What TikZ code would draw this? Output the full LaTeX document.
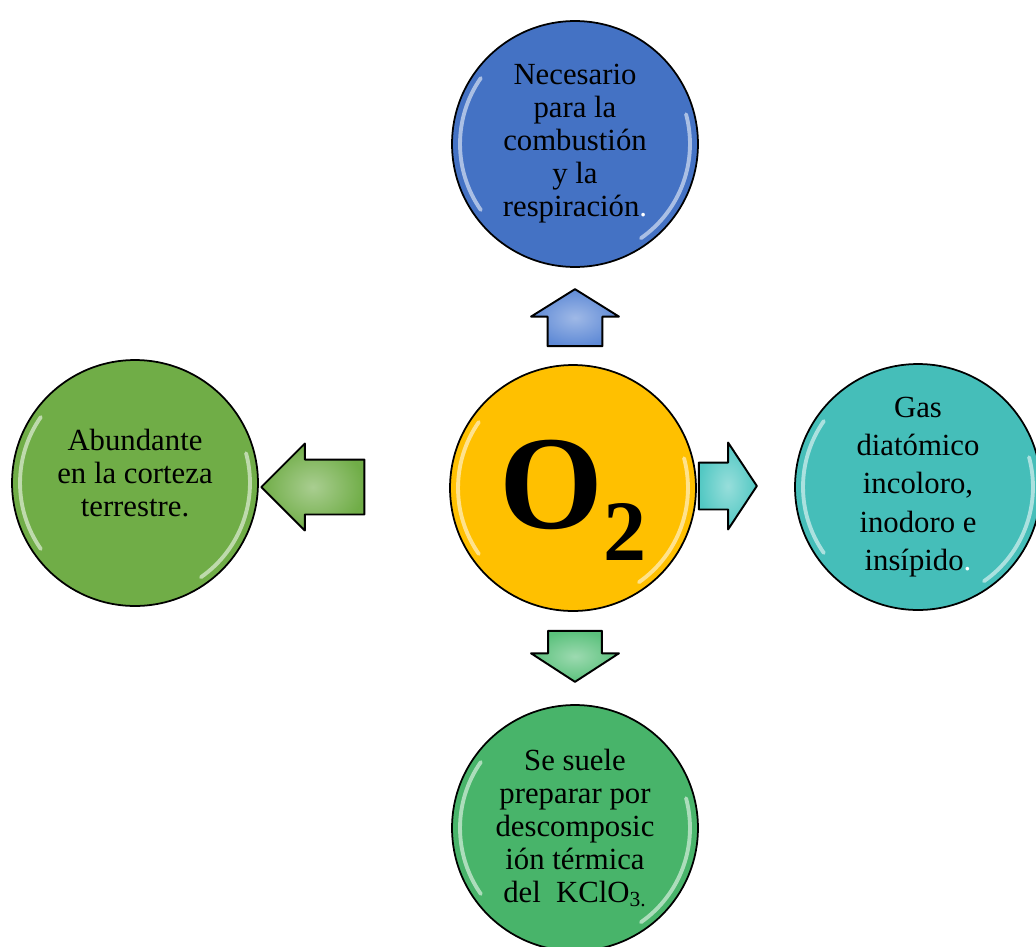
\documentclass[tikz,border=0pt]{standalone}
\usepackage{fontspec}
\setmainfont{Liberation Serif}
\usepackage{xcolor}
\usepackage{tikz}
\usetikzlibrary{
    shapes.arrows,
    positioning
}
\definecolor{azulcirc}{HTML}{4472C4}
\definecolor{amarcirc}{HTML}{FFC000}
\definecolor{verdecirc}{HTML}{70AD47}
\definecolor{turqcirc}{HTML}{45BEB9}
\definecolor{verdeosc}{HTML}{48B46A}
\definecolor{azulflecha}{HTML}{5F8AD6}
\definecolor{turqflecha}{HTML}{52C8C3}
\definecolor{verdeflecha}{HTML}{70AD47}
\definecolor{menta}{HTML}{5BC17C}
\tikzset{
    bola/.style={
        draw,
        circle,
        minimum size=4.92cm,
        inner sep=0pt,
        line width=1pt,
        align=center,
        font=\fontsize{17.5}{18.8}\selectfont
    },
    flecha/.style={
        draw,
        single arrow,
        anchor=tip,
        inner xsep=0pt,
        line width=1.1pt,
        line join=round
    },
    brillo/.style={
        white,
        opacity=0.55,
        line width=2.2pt,
        line cap=round
    }
}

\begin{document}
\begin{tikzpicture}[x=0.02cm,y=-0.02cm]
\useasboundingbox (0,0) rectangle (1036,947);
\node[bola, fill=azulcirc] (necesario) at (575,144) {Necesario\\para la\\combustión\\y la\\respiración{\color{white}.}};
\node[bola, fill=amarcirc] (oxig) at (573,488) {};
\node[bola, fill=verdecirc, text depth=0.4cm] (abundante) at (135,483) {Abundante\\en la corteza\\terrestre.};
\node[bola, fill=turqcirc, font=\fontsize{17.5}{21.8}\selectfont] (gas) at (918,487) {Gas\\diatómico\\incoloro,\\inodoro e\\insípido{\color{white}.}};
\node[bola, fill=verdeosc] (prepara) at (575,828) {Se suele\\preparar por\\descomposic\\ión térmica\\del~ KClO\textsubscript{3.}};
\node[anchor=base, inner sep=0pt] (formula) at (573,528) {\fontsize{76}{80}\selectfont\bfseries O\raisebox{-0.64cm}{\fontsize{49}{50}\selectfont 2}};
\foreach \b in {necesario,oxig,abundante,gas,prepara} {
    \draw[brillo] (\b.center) ++(145:2.3cm) arc[start angle=145, end angle=215, radius=2.3cm];
    \draw[brillo] (\b.center) ++(-55:2.3cm) arc[start angle=-55, end angle=15, radius=2.3cm];
}
\node[flecha, shade, inner color=azulflecha!60!white, outer color=azulflecha, rotate=90, minimum height=1.14cm, inner ysep=0.53cm, single arrow head extend=0.33cm, single arrow tip angle=116] (fup) at (575,288) {};
\node[flecha, shade, inner color=turqflecha!60!white, outer color=turqflecha, minimum height=1.16cm, inner ysep=0.45cm, single arrow head extend=0.40cm, single arrow tip angle=113] (fright) at (758,486) {};
\node[flecha, shade, inner color=verdeflecha!60!white, outer color=verdeflecha, rotate=180, minimum height=2.06cm, inner ysep=0.53cm, single arrow head extend=0.32cm, single arrow tip angle=90] (fleft) at (260,487) {};
\node[flecha, shade, inner color=menta!60!white, outer color=menta, rotate=-90, minimum height=1.02cm, inner ysep=0.52cm, single arrow head extend=0.34cm, single arrow tip angle=114] (fdown) at (575,683) {};
\end{tikzpicture}
\end{document}
